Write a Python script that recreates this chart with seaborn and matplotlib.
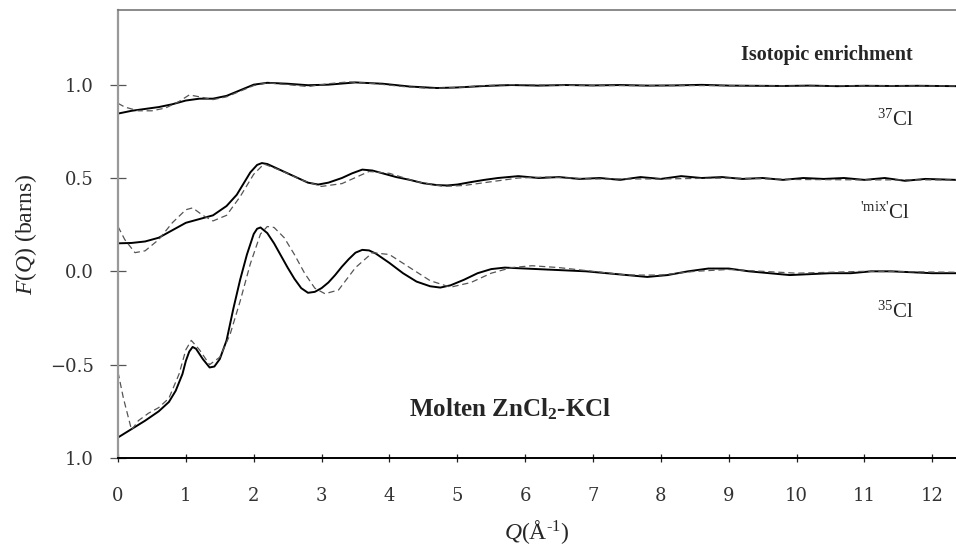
import numpy as np
import pandas as pd
import matplotlib
matplotlib.use("Agg")
import matplotlib.pyplot as plt
import seaborn as sns

# ---------------- data ----------------
cl37_q = [0, 0.2, 0.4, 0.6, 0.8, 1.0, 1.2, 1.4, 1.6, 1.8, 2.0, 2.2, 2.5, 2.8, 3.1, 3.5, 3.9, 4.3,
          4.7, 5.0, 5.4, 5.8, 6.2, 6.6, 7.0, 7.4, 7.8, 8.2, 8.6, 9.0, 9.4, 9.8, 10.2, 10.6, 11.0,
          11.4, 11.8, 12.35]
cl37_f = [0.845, 0.86, 0.87, 0.88, 0.895, 0.915, 0.925, 0.925, 0.94, 0.97, 1.0, 1.01, 1.005, 0.997,
          1.0, 1.012, 1.005, 0.99, 0.982, 0.985, 0.993, 0.998, 0.995, 0.998, 0.996, 0.998, 0.995,
          0.996, 0.999, 0.995, 0.994, 0.993, 0.995, 0.992, 0.994, 0.993, 0.994, 0.992]
cl37_fit_q = [0, 0.1, 0.3, 0.5, 0.7, 0.9, 1.05, 1.2, 1.4, 1.6, 1.8, 2.0, 2.2, 2.5, 2.8, 3.1, 3.4,
              3.8, 4.2, 4.6, 5.0, 5.4, 5.8, 6.2, 7, 8, 9, 10, 11, 12.35]
cl37_fit_f = [0.90, 0.88, 0.86, 0.86, 0.875, 0.91, 0.945, 0.935, 0.92, 0.935, 0.965, 0.995, 1.01,
              1.0, 0.99, 1.005, 1.015, 1.005, 0.99, 0.98, 0.985, 0.995, 1.0, 0.998, 0.995, 0.995,
              0.995, 0.993, 0.994, 0.993]

mix_q = [0, 0.2, 0.4, 0.6, 0.8, 1.0, 1.2, 1.4, 1.6, 1.75, 1.85, 1.95, 2.05, 2.12, 2.2, 2.35, 2.5,
         2.65, 2.8, 2.95, 3.1, 3.3, 3.45, 3.6, 3.75, 3.9, 4.1, 4.3, 4.5, 4.7, 4.85, 5.0, 5.2, 5.4,
         5.6, 5.9, 6.2, 6.5, 6.8, 7.1, 7.4, 7.7, 8.0, 8.3, 8.6, 8.9, 9.2, 9.5, 9.8, 10.1, 10.4,
         10.7, 11.0, 11.3, 11.6, 11.9, 12.35]
mix_f = [0.15, 0.152, 0.16, 0.18, 0.22, 0.26, 0.28, 0.30, 0.35, 0.41, 0.47, 0.53, 0.57, 0.58,
         0.575, 0.55, 0.525, 0.50, 0.475, 0.465, 0.475, 0.50, 0.525, 0.545, 0.54, 0.525, 0.505,
         0.49, 0.472, 0.462, 0.46, 0.465, 0.478, 0.49, 0.50, 0.51, 0.50, 0.505, 0.495, 0.50, 0.49,
         0.505, 0.495, 0.51, 0.50, 0.505, 0.495, 0.50, 0.49, 0.50, 0.495, 0.50, 0.49, 0.50, 0.485,
         0.495, 0.49]
mix_fit_q = [0, 0.1, 0.25, 0.4, 0.6, 0.8, 1.0, 1.1, 1.25, 1.4, 1.6, 1.8, 2.0, 2.15, 2.4, 2.7, 3.0,
             3.3, 3.7, 4.0, 4.4, 4.8, 5.1, 5.5, 5.9, 6.3, 7, 8, 9, 10, 11, 12.35]
mix_fit_f = [0.24, 0.17, 0.10, 0.11, 0.17, 0.26, 0.33, 0.34, 0.30, 0.27, 0.30, 0.40, 0.52, 0.575,
             0.54, 0.49, 0.455, 0.47, 0.535, 0.525, 0.48, 0.455, 0.46, 0.48, 0.50, 0.505, 0.495,
             0.495, 0.50, 0.492, 0.49, 0.49]

cl35_q = [0, 0.2, 0.4, 0.6, 0.75, 0.85, 0.95, 1.0, 1.05, 1.1, 1.15, 1.25, 1.35, 1.42, 1.5, 1.6,
          1.7, 1.8, 1.9, 2.0, 2.05, 2.1, 2.2, 2.3, 2.4, 2.5, 2.6, 2.7, 2.8, 2.9, 3.0, 3.1, 3.2,
          3.3, 3.4, 3.5, 3.6, 3.7, 3.8, 3.9, 4.0, 4.2, 4.4, 4.6, 4.75, 4.9, 5.1, 5.3, 5.5, 5.7,
          6.0, 6.3, 6.6, 6.9, 7.2, 7.5, 7.8, 8.1, 8.4, 8.7, 9.0, 9.3, 9.6, 9.9, 10.2, 10.5, 10.8,
          11.1, 11.4, 11.7, 12.0, 12.35]
cl35_f = [-0.89, -0.845, -0.80, -0.75, -0.70, -0.64, -0.55, -0.48, -0.43, -0.405, -0.415, -0.47,
          -0.515, -0.51, -0.47, -0.37, -0.20, -0.045, 0.09, 0.20, 0.228, 0.235, 0.205, 0.15, 0.085,
          0.02, -0.04, -0.09, -0.115, -0.11, -0.09, -0.06, -0.02, 0.025, 0.065, 0.10, 0.115, 0.112,
          0.095, 0.07, 0.045, -0.01, -0.055, -0.08, -0.087, -0.075, -0.045, -0.01, 0.012, 0.02,
          0.015, 0.01, 0.005, 0.0, -0.01, -0.02, -0.03, -0.02, 0.0, 0.015, 0.015, 0.0, -0.01,
          -0.02, -0.015, -0.01, -0.01, 0.0, 0.0, -0.005, -0.01, -0.01]
cl35_fit_q = [0, 0.08, 0.2, 0.3, 0.45, 0.6, 0.75, 0.9, 1.0, 1.08, 1.2, 1.35, 1.5, 1.65, 1.8, 1.95,
              2.1, 2.2, 2.3, 2.45, 2.6, 2.75, 2.9, 3.05, 3.25, 3.5, 3.75, 4.0, 4.3, 4.6, 4.9, 5.2,
              5.5, 5.8, 6.1, 6.5, 7.0, 7.5, 8.0, 8.5, 9.0, 9.5, 10, 11, 12.35]
cl35_fit_f = [-0.54, -0.68, -0.85, -0.80, -0.76, -0.73, -0.68, -0.55, -0.42, -0.37, -0.42, -0.50,
              -0.46, -0.34, -0.16, 0.04, 0.20, 0.24, 0.235, 0.18, 0.09, -0.01, -0.09, -0.12,
              -0.10, 0.02, 0.10, 0.09, 0.02, -0.05, -0.085, -0.06, -0.01, 0.02, 0.03, 0.02, 0.0,
              -0.02, -0.02, 0.0, 0.01, 0.0, -0.01, 0.0, -0.005]

x_ticks = list(range(0, 13))
y_ticks = [1.0, 0.5, 0.0, -0.5, -1.0]
y_tick_labels = ["1.0", "0.5", "0.0", "\u22120.5", "1.0"]

# ---------------- styling ----------------
sns.set_theme(style="ticks")
plt.rcParams["font.family"] = ["Liberation Serif", "DejaVu Serif"]
plt.rcParams["mathtext.fontset"] = "custom"
plt.rcParams["mathtext.rm"] = "Liberation Serif"
plt.rcParams["mathtext.it"] = "Liberation Serif:italic"
plt.rcParams["mathtext.bf"] = "Liberation Serif:bold"

fig = plt.figure(figsize=(9.56, 5.47), dpi=100)
ax = fig.add_axes([118 / 956, 1 - 458 / 547, 1 - 118 / 956, (458 - 10) / 547])

solid_kw = dict(color="black", linewidth=1.4, estimator=None, sort=False, ax=ax)
dash_kw = dict(color="#555555", linewidth=0.9, estimator=None, sort=False, ax=ax)

for q, f in [(cl37_q, cl37_f), (mix_q, mix_f), (cl35_q, cl35_f)]:
    sns.lineplot(x=q, y=f, **solid_kw)
for q, f in [(cl37_fit_q, cl37_fit_f), (mix_fit_q, mix_fit_f), (cl35_fit_q, cl35_fit_f)]:
    sns.lineplot(x=q, y=f, **dash_kw)
    ax.lines[-1].set_linestyle((0, (5, 3)))

ax.set_xlim(0, 12.35)
ax.set_ylim(-1.0, 1.4)
ax.set_xticks(x_ticks)
ax.set_xticklabels([str(t) for t in x_ticks])
ax.set_yticks(y_ticks)
ax.set_yticklabels(y_tick_labels)
ax.tick_params(axis="both", labelfontfamily="DejaVu Serif", labelsize=13, labelcolor="#333333")
ax.tick_params(axis="x", direction="inout", length=6, width=0.9, pad=18, color="#222222")
ax.tick_params(axis="y", direction="inout", length=11, width=0.9, pad=12, color="#555555")

ax.spines["right"].set_visible(False)
ax.spines["top"].set_color("#777777")
ax.spines["top"].set_linewidth(1.2)
ax.spines["left"].set_color("#999999")
ax.spines["left"].set_linewidth(1.6)
ax.spines["bottom"].set_color("black")
ax.spines["bottom"].set_linewidth(1.4)

ax.set_xlabel(r"$Q$(Å$^{\text{-1}}$)", fontsize=17, labelpad=9)
ax.set_ylabel(r"$F$($Q$) (barns)", fontsize=17, labelpad=8)

ax.text(10.45, 1.16, "Isotopic enrichment", fontsize=14.5, fontweight="bold",
        ha="center", va="center")
ax.text(11.45, 0.81, r"$^{37}$Cl", fontsize=15, ha="center", va="center")
ax.text(11.3, 0.31, r"$^{\text{'mix'}}$Cl", fontsize=15, ha="center", va="center")
ax.text(11.45, -0.22, r"$^{35}$Cl", fontsize=15, ha="center", va="center")
ax.text(5.78, -0.74, r"Molten ZnCl$_{\mathbf{2}}$-KCl", fontsize=18, fontweight="bold",
        ha="center", va="center")

fig.savefig("out.png", dpi=100)
